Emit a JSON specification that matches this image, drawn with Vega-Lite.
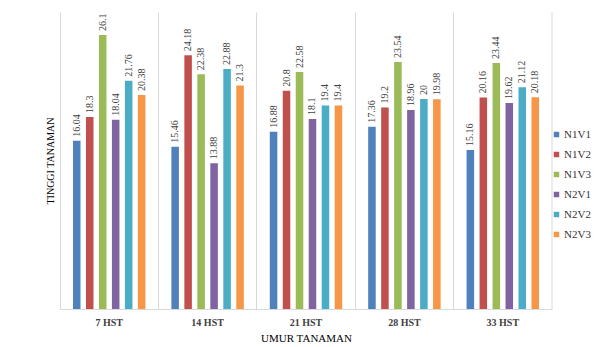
{
  "$schema": "https://vega.github.io/schema/vega-lite/v6.json",
  "width": 492,
  "height": 297,
  "autosize": {"type": "none"},
  "padding": {"left": 60, "top": 12, "right": 45, "bottom": 38},
  "background": "white",
  "config": {
    "view": {"stroke": null},
    "axis": {"titleFont": "Liberation Serif, DejaVu Serif, serif", "labelFont": "Liberation Serif, DejaVu Serif, serif"}
  },
  "layer": [
    {
      "data": {"values": [
        {"umur": "7 HST", "perlakuan": "N1V1", "tinggi": 16.04},
        {"umur": "7 HST", "perlakuan": "N1V2", "tinggi": 18.3},
        {"umur": "7 HST", "perlakuan": "N1V3", "tinggi": 26.1},
        {"umur": "7 HST", "perlakuan": "N2V1", "tinggi": 18.04},
        {"umur": "7 HST", "perlakuan": "N2V2", "tinggi": 21.76},
        {"umur": "7 HST", "perlakuan": "N2V3", "tinggi": 20.38},
        {"umur": "14 HST", "perlakuan": "N1V1", "tinggi": 15.46},
        {"umur": "14 HST", "perlakuan": "N1V2", "tinggi": 24.18},
        {"umur": "14 HST", "perlakuan": "N1V3", "tinggi": 22.38},
        {"umur": "14 HST", "perlakuan": "N2V1", "tinggi": 13.88},
        {"umur": "14 HST", "perlakuan": "N2V2", "tinggi": 22.88},
        {"umur": "14 HST", "perlakuan": "N2V3", "tinggi": 21.3},
        {"umur": "21 HST", "perlakuan": "N1V1", "tinggi": 16.88},
        {"umur": "21 HST", "perlakuan": "N1V2", "tinggi": 20.8},
        {"umur": "21 HST", "perlakuan": "N1V3", "tinggi": 22.58},
        {"umur": "21 HST", "perlakuan": "N2V1", "tinggi": 18.1},
        {"umur": "21 HST", "perlakuan": "N2V2", "tinggi": 19.4},
        {"umur": "21 HST", "perlakuan": "N2V3", "tinggi": 19.4},
        {"umur": "28 HST", "perlakuan": "N1V1", "tinggi": 17.36},
        {"umur": "28 HST", "perlakuan": "N1V2", "tinggi": 19.2},
        {"umur": "28 HST", "perlakuan": "N1V3", "tinggi": 23.54},
        {"umur": "28 HST", "perlakuan": "N2V1", "tinggi": 18.96},
        {"umur": "28 HST", "perlakuan": "N2V2", "tinggi": 20},
        {"umur": "28 HST", "perlakuan": "N2V3", "tinggi": 19.98},
        {"umur": "33 HST", "perlakuan": "N1V1", "tinggi": 15.16},
        {"umur": "33 HST", "perlakuan": "N1V2", "tinggi": 20.16},
        {"umur": "33 HST", "perlakuan": "N1V3", "tinggi": 23.44},
        {"umur": "33 HST", "perlakuan": "N2V1", "tinggi": 19.62},
        {"umur": "33 HST", "perlakuan": "N2V2", "tinggi": 21.12},
        {"umur": "33 HST", "perlakuan": "N2V3", "tinggi": 20.18}
      ]},
      "encoding": {
        "x": {
          "field": "umur", "type": "nominal",
          "sort": ["7 HST", "14 HST", "21 HST", "28 HST", "33 HST"],
          "scale": {"paddingInner": 0, "paddingOuter": 0},
          "axis": {
            "title": "UMUR TANAMAN", "titleFontSize": 11, "titleFontWeight": "normal", "titleColor": "#000000", "titlePadding": 5,
            "labelFontSize": 10, "labelFontWeight": "bold", "labelColor": "#404040", "labelAngle": 0, "labelPadding": 8,
            "ticks": false, "domainColor": "#d9d9d9",
            "grid": true, "gridColor": "#d9d9d9", "bandPosition": 0
          }
        },
        "xOffset": {
          "field": "perlakuan", "type": "nominal",
          "scale": {"paddingInner": 0.42, "paddingOuter": 1.2}
        },
        "y": {
          "field": "tinggi", "type": "quantitative",
          "scale": {"domain": [0, 28.3], "nice": false},
          "axis": {
            "title": "TINGGI TANAMAN", "titleFontSize": 10, "titleFontWeight": "normal", "titleColor": "#000000", "titlePadding": 5,
            "labels": false, "ticks": false, "domain": false, "grid": false
          }
        }
      },
      "layer": [
        {
          "mark": {"type": "bar"},
          "encoding": {
            "color": {
              "field": "perlakuan", "type": "nominal",
              "scale": {
                "domain": ["N1V1", "N1V2", "N1V3", "N2V1", "N2V2", "N2V3"],
                "range": ["#4F81BD", "#C0504D", "#9BBB59", "#8064A2", "#4BACC6", "#F79646"]
              },
              "legend": {
                "title": null, "orient": "none", "legendX": 491, "legendY": 117,
                "symbolType": "square", "symbolSize": 30, "symbolStrokeWidth": 0,
                "labelFont": "Liberation Serif, DejaVu Serif, serif", "labelFontSize": 11, "labelColor": "#333333",
                "labelOffset": 2, "rowPadding": 8
              }
            }
          }
        },
        {
          "mark": {"type": "text", "angle": 270, "align": "left", "baseline": "middle", "dx": 4,
                   "font": "Liberation Sans Narrow", "fontSize": 10, "color": "#404040"},
          "encoding": {
            "text": {"field": "tinggi", "type": "nominal"}
          }
        }
      ]
    },
    {
      "data": {"values": [{"umur": "33 HST"}]},
      "mark": {"type": "rule", "color": "#d9d9d9"},
      "encoding": {
        "x": {"field": "umur", "type": "nominal", "bandPosition": 1,
              "sort": ["7 HST", "14 HST", "21 HST", "28 HST", "33 HST"]}
      }
    }
  ]
}
